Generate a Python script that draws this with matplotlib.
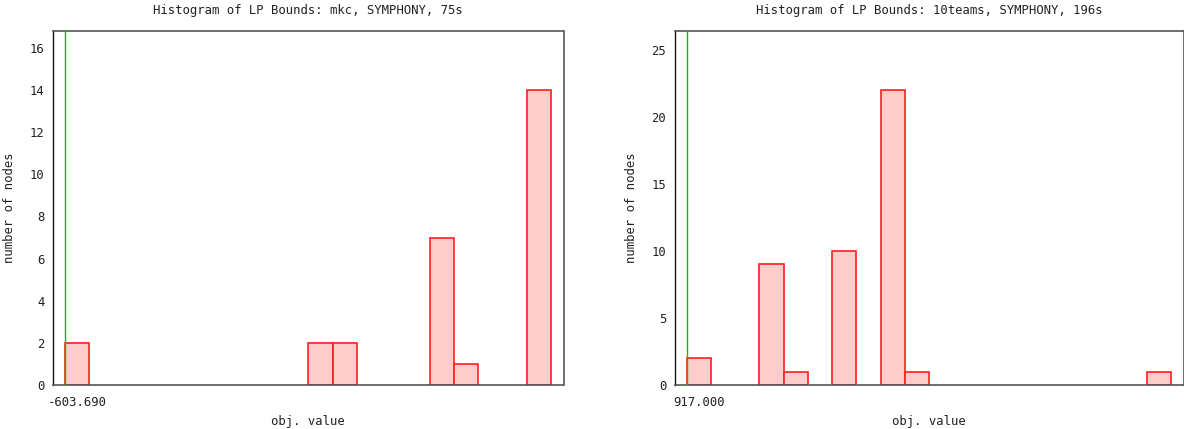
import matplotlib
matplotlib.use("Agg")
import matplotlib.pyplot as plt
import numpy as np

# ---- data (bin index -> number of nodes) ----
n_bins = 20
mkc_bins = [0, 10, 11, 15, 16, 19]
mkc_counts = [2, 2, 2, 7, 1, 14]
mkc_title = "Histogram of LP Bounds: mkc, SYMPHONY, 75s"
mkc_tick = "-603.690"
mkc_yticks = [0, 2, 4, 6, 8, 10, 12, 14, 16]

teams_bins = [0, 3, 4, 6, 8, 9, 19]
teams_counts = [2, 9, 1, 10, 22, 1, 1]
teams_title = "Histogram of LP Bounds: 10teams, SYMPHONY, 196s"
teams_tick = "917.000"
teams_yticks = [0, 5, 10, 15, 20, 25]

xlabel = "obj. value"
ylabel = "number of nodes"

plt.rcParams['font.family'] = ['DejaVu Sans Mono']
FS = 8.8

W, H = 1184, 429
fig = plt.figure(figsize=(W / 100, H / 100), dpi=100)

def px_axes(l, r, t, b):
    return fig.add_axes([l / W, 1 - b / H, (r - l) / W, (b - t) / H])

def draw(ax, bins, counts, title, tick, yticks):
    counts = np.array(counts, dtype=float)
    ax.bar(bins, counts, width=1.0, align='edge', color='#ffcccc',
           edgecolor='#ff2020', linewidth=1.2, zorder=2)
    ax.axvline(0, color='#00c000', linewidth=1.0, zorder=3)
    ax.set_xlim(-0.5, n_bins + 0.5)
    ax.set_ylim(0, counts.max() * 1.2)
    ax.set_xticks([0.5])
    ax.set_xticklabels([tick], fontsize=FS)
    ax.set_yticks(yticks)
    ax.set_yticklabels([str(v) for v in yticks], fontsize=FS)
    ax.tick_params(axis='both', length=0, colors='#222222')
    ax.tick_params(axis='y', pad=6)
    ax.tick_params(axis='x', pad=8)
    for s in ax.spines.values():
        s.set_color('#555555')
        s.set_linewidth(1.2)
    ax.spines['left'].set_color('#111111')
    ax.spines['left'].set_linewidth(1.0)
    ax.set_title(title, fontsize=FS, pad=12, color='#222222')
    ax.set_xlabel(xlabel, fontsize=FS, color='#222222')
    ax.set_ylabel(ylabel, fontsize=FS, color='#222222')

ax1 = px_axes(53, 563.5, 31, 385)
draw(ax1, mkc_bins, mkc_counts, mkc_title, mkc_tick, mkc_yticks)
ax1.xaxis.set_label_coords(0.5, -0.085)
ax1.yaxis.set_label_coords(-0.072, 0.5)

ax2 = px_axes(674.5, 1183.5, 31, 385)
draw(ax2, teams_bins, teams_counts, teams_title, teams_tick, teams_yticks)
ax2.xaxis.set_label_coords(0.5, -0.085)
ax2.yaxis.set_label_coords(-0.072, 0.5)

fig.savefig("out.png", dpi=100)
